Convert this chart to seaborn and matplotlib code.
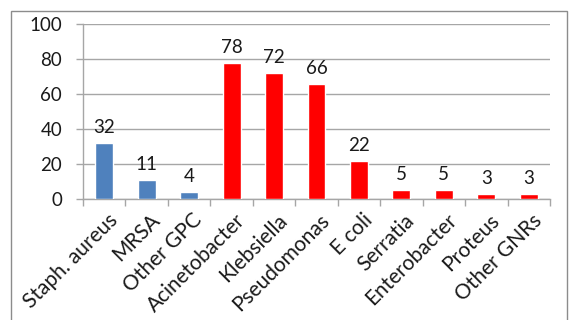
import seaborn as sns
import matplotlib
matplotlib.use("Agg")
import matplotlib.pyplot as plt
import matplotlib.transforms as mtrans
from matplotlib.patches import Rectangle
import pandas as pd

organisms = ['Staph. aureus', 'MRSA', 'Other GPC', 'Acinetobacter', 'Klebsiella',
             'Pseudomonas', 'E coli', 'Serratia', 'Enterobacter', 'Proteus', 'Other GNRs']
counts = [32, 11, 4, 78, 72, 66, 22, 5, 5, 3, 3]
groups = ['GPC', 'GPC', 'GPC', 'GNR', 'GNR', 'GNR', 'GNR', 'GNR', 'GNR', 'GNR', 'GNR']

df = pd.DataFrame(dict(organism=organisms, count=counts, group=groups))

sns.set_style("white")
plt.rcParams['font.family'] = ['Lato', 'DejaVu Sans']
txt = '#1a1a1a'

fig = plt.figure(figsize=(5.69, 3.2), dpi=100)
ax = fig.add_axes([83 / 569, 1 - 199 / 320, (550 - 83) / 569, (199 - 24) / 320])

sns.barplot(data=df, x='organism', y='count', hue='group', dodge=False,
            palette={'GPC': '#4F81BD', 'GNR': '#FF0000'}, width=0.42, saturation=1,
            legend=False, ax=ax, zorder=3)

for c in ax.containers:
    ax.bar_label(c, fontsize=13.5, padding=5, color=txt)

ax.set_ylim(0, 100)
ax.set_xlim(-0.5, len(organisms) - 0.5)
ax.set_yticks(range(0, 101, 20))
ax.yaxis.grid(True, color='#a6a6a6', linewidth=1, zorder=0)
ax.set_xlabel('')
ax.set_ylabel('')

for s in ['top', 'right']:
    ax.spines[s].set_visible(False)
for s in ['left', 'bottom']:
    ax.spines[s].set_color('#a6a6a6')
    ax.spines[s].set_linewidth(1)

ax.set_xticks([i - 0.5 for i in range(len(organisms) + 1)], minor=True)
ax.tick_params(axis='x', which='minor', length=5, color='#a6a6a6', width=1, bottom=True)
ax.tick_params(axis='x', which='major', length=0, pad=8)
ax.tick_params(axis='y', length=5, color='#a6a6a6', width=1, left=True, labelsize=13.5,
               pad=10, labelcolor=txt)
ax.set_xticks(range(len(organisms)))
ax.set_xticklabels(organisms, rotation=45, ha='right', va='top', rotation_mode='anchor',
                   fontsize=15, color=txt)
shift = mtrans.ScaledTranslation(3 / 100, 0, fig.dpi_scale_trans)
for t in ax.get_xticklabels():
    t.set_transform(t.get_transform() + shift)

fig.patches.append(Rectangle((11 / 569, -0.1), (567 - 11) / 569, 1.1 - 11 / 320,
                             transform=fig.transFigure, fill=False,
                             edgecolor='#8c8c8c', linewidth=1))

fig.savefig('out.png', dpi=100)
